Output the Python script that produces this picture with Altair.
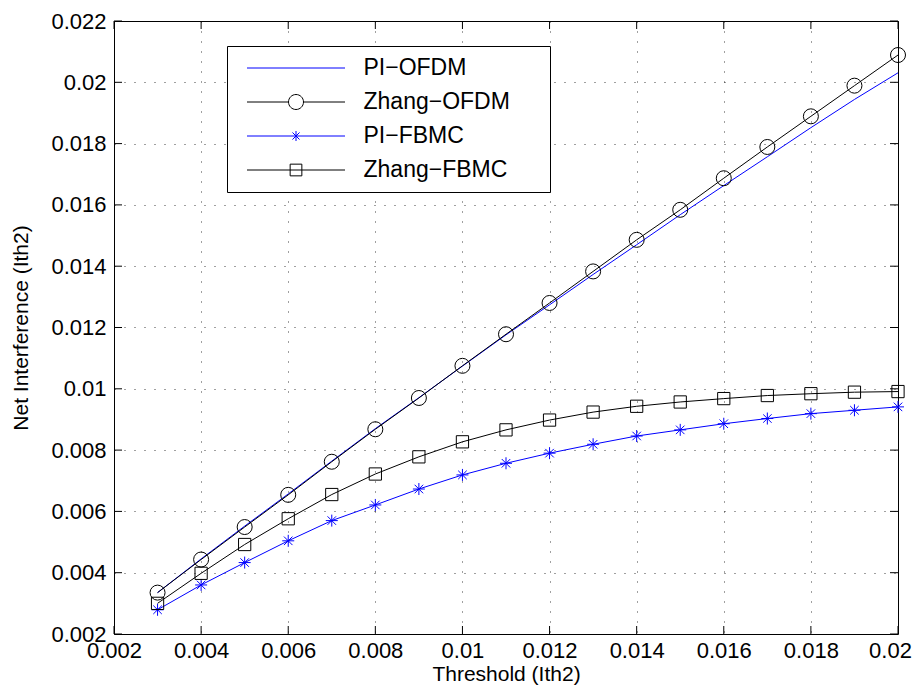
import altair as alt
import pandas as pd

# ---------------- data ----------------
threshold = [0.003, 0.004, 0.005, 0.006, 0.007, 0.008, 0.009, 0.010, 0.011,
             0.012, 0.013, 0.014, 0.015, 0.016, 0.017, 0.018, 0.019, 0.020]

pi_ofdm = [0.00335, 0.00445, 0.00552, 0.00657, 0.00764, 0.00870, 0.00971, 0.01074, 0.01176,
           0.01274, 0.01373, 0.01470, 0.01568, 0.01663, 0.01757, 0.01852, 0.01944, 0.02031]
zhang_ofdm = [0.00335, 0.00443, 0.00549, 0.00654, 0.00762, 0.00868, 0.00970, 0.01075, 0.01178,
              0.01280, 0.01383, 0.01486, 0.01584, 0.01687, 0.01789, 0.01889, 0.01989, 0.02089]
pi_fbmc = [0.00279, 0.00360, 0.00433, 0.00504, 0.00570, 0.00621, 0.00673, 0.00719, 0.00757,
           0.00790, 0.00819, 0.00846, 0.00866, 0.00886, 0.00903, 0.00919, 0.00930, 0.00941]
zhang_fbmc = [0.00300, 0.00398, 0.00492, 0.00576, 0.00655, 0.00722, 0.00778, 0.00827, 0.00866,
              0.00898, 0.00924, 0.00943, 0.00957, 0.00968, 0.00978, 0.00984, 0.00989, 0.00991]

series_names = ["PI\u2212OFDM", "Zhang\u2212OFDM", "PI\u2212FBMC", "Zhang\u2212FBMC"]
series_colors = ["#0000ff", "#000000", "#0000ff", "#000000"]

x_ticks = [0.002, 0.004, 0.006, 0.008, 0.01, 0.012, 0.014, 0.016, 0.018, 0.02]
y_ticks = [0.002, 0.004, 0.006, 0.008, 0.01, 0.012, 0.014, 0.016, 0.018, 0.02, 0.022]

# legend glyphs (symbol size 529 -> 11.5 px per unit): a line with the marker in its middle
legend_paths = [
    "M-1,0H7.522",
    "M-1,0H2.609M3.913,0H7.522M2.609,0A0.652,0.652 0 1,1 3.913,0A0.652,0.652 0 1,1 2.609,0",
    "M-1,0H7.522M3.261,-0.435V0.435M2.954,-0.307L3.568,0.307M2.954,0.307L3.568,-0.307",
    "M-1,0H7.522M2.752,-0.509H3.770V0.509H2.752Z",
]
star_path = "M0,-1V1M-1,0H1M-0.71,-0.71L0.71,0.71M-0.71,0.71L0.71,-0.71"

rows = []
for name, vals in zip(series_names, [pi_ofdm, zhang_ofdm, pi_fbmc, zhang_fbmc]):
    for i, (t, v) in enumerate(zip(threshold, vals)):
        rows.append({"series": name, "x": t, "y": v, "order": i})
df = pd.DataFrame(rows)

xt = pd.DataFrame({"t": x_ticks})
yt = pd.DataFrame({"t": y_ticks})

# ---------------- chart ----------------
W, H = 784, 613
FONT = "Liberation Sans"
FS = 22
TFS = 21
TL = 8  # inward tick length

xscale = alt.Scale(domain=[0.002, 0.02], nice=False, zero=False)
yscale = alt.Scale(domain=[0.002, 0.022], nice=False, zero=False)

common = dict(format="~g", ticks=False, domain=False, grid=True, gridDash=[1, 9],
              gridColor="#000000", gridOpacity=0.75, gridWidth=1, labelFontSize=FS,
              titleFontSize=TFS, labelFlush=False, labelOverlap=False, labelFont=FONT,
              titleFont=FONT, labelColor="#000", titleColor="#000", titleFontWeight="normal")
xaxis = alt.Axis(values=x_ticks, title="Threshold (Ith2)", labelPadding=6, titlePadding=2,
                 labelOffset=alt.ConditionalAxisNumber(condition={"test": "datum.value >= 0.0199", "value": -8}, value=0),
                 **common)
yaxis = alt.Axis(values=y_ticks, title="Net Interference (Ith2)", labelPadding=8, titlePadding=19, **common)

base = alt.Chart(df)

lines = base.mark_line(strokeWidth=1, clip=False).encode(
    x=alt.X("x:Q", scale=xscale, axis=xaxis),
    y=alt.Y("y:Q", scale=yscale, axis=yaxis),
    color=alt.Color("series:N", scale=alt.Scale(domain=series_names, range=series_colors),
                    legend=None),
    order="order:Q",
)

def markers(name, shape, size, color):
    return base.transform_filter(alt.datum.series == name).mark_point(
        shape=shape, size=size, filled=False, stroke=color, strokeWidth=1, opacity=1
    ).encode(x=alt.X("x:Q", scale=xscale), y=alt.Y("y:Q", scale=yscale))

m_circ = markers(series_names[1], "circle", 225, "#000000")
m_star = markers(series_names[2], star_path, 144, "#0000ff")
m_sq = markers(series_names[3], "square", 150, "#000000")

leg = alt.Legend(title=None, orient="none", legendX=113, legendY=25, fillColor="#ffffff",
                 strokeColor="#000000", padding=10, symbolOffset=9.5, labelOffset=93,
                 labelFont=FONT, labelFontSize=23, labelColor="#000", symbolSize=529,
                 symbolStrokeWidth=1, rowPadding=10,
                 labelExpr="datum.label + '\u00a0\u00a0\u2800'",
                 symbolOpacity=1, labelLimit=400)

legend_layer = base.transform_filter("false").mark_point(filled=False, size=529, strokeWidth=1).encode(
    x=alt.X("x:Q", scale=xscale),
    y=alt.Y("y:Q", scale=yscale),
    shape=alt.Shape("series:N", scale=alt.Scale(domain=series_names, range=legend_paths), legend=leg),
    stroke=alt.Stroke("series:N", scale=alt.Scale(domain=series_names, range=series_colors), legend=leg),
)

tick_b = alt.Chart(xt).mark_rule(color="#000", strokeWidth=1).encode(
    x=alt.X("t:Q", scale=xscale), y=alt.value(H), y2=alt.value(H - TL))
tick_t = alt.Chart(xt).mark_rule(color="#000", strokeWidth=1).encode(
    x=alt.X("t:Q", scale=xscale), y=alt.value(0), y2=alt.value(TL))
tick_l = alt.Chart(yt).mark_rule(color="#000", strokeWidth=1).encode(
    y=alt.Y("t:Q", scale=yscale), x=alt.value(0), x2=alt.value(TL))
tick_r = alt.Chart(yt).mark_rule(color="#000", strokeWidth=1).encode(
    y=alt.Y("t:Q", scale=yscale), x=alt.value(W), x2=alt.value(W - TL))

chart = alt.layer(
    tick_b, tick_t, tick_l, tick_r, lines, m_circ, m_star, m_sq, legend_layer
).resolve_scale(shape="independent", stroke="independent").properties(
    width=W, height=H,
    autosize=alt.AutoSizeParams(type="none"),
    padding={"left": 106, "top": 13, "right": 16, "bottom": 52},
    background="#ffffff",
).configure_view(stroke="#000000", strokeWidth=1)

chart.save("out.html", embed_options={"renderer": "svg", "actions": False})
